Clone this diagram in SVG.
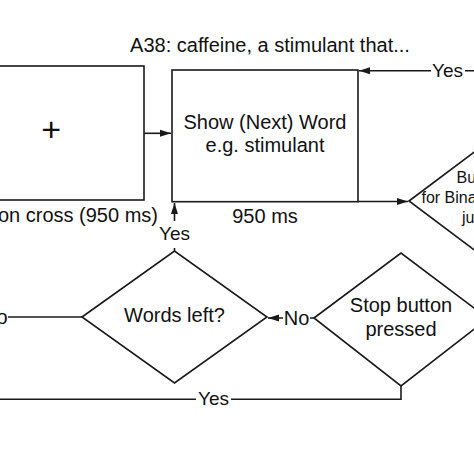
<svg xmlns="http://www.w3.org/2000/svg" width="474" height="474" viewBox="0 0 474 474">
<style>
.shape{fill:#fff;stroke:#1a1a1a;stroke-width:1.6}
.t{font-family:"Liberation Sans",Arial,sans-serif;font-size:20px;fill:#111}
.s{font-size:16px}
.c{text-anchor:middle}
.e{text-anchor:end}
.edge{fill:none;stroke:#1a1a1a;stroke-width:1.6}
</style>
<defs>
<marker id="arr" markerUnits="userSpaceOnUse" markerWidth="12" markerHeight="10" refX="11" refY="4" orient="auto">
<path d="M0,0.5 L11,4 L0,7.5 Z" fill="#1a1a1a"/>
</marker>
</defs>
<rect width="474" height="474" fill="#fff"/>
<text class="t c" x="270" y="52">A38: caffeine, a stimulant that...</text>
<g id="fixation">
<rect class="shape" x="-10" y="66" width="154" height="134"/>
<text class="t c" x="51.3" y="141" style="font-size:34px">+</text>
<text class="t e" x="158" y="222">on cross (950 ms)</text>
</g>
<g id="show-word">
<rect class="shape" x="172" y="70" width="186" height="131.7"/>
<text class="t c" x="265" y="129">Show (Next) Word</text>
<text class="t c" x="265" y="152">e.g. stimulant</text>
<text class="t c" x="265" y="223">950 ms</text>
</g>
<g id="button-decision">
<polygon class="shape" points="409,201 497,135 585,201 497,267"/>
<text class="t s" x="456.5" y="183">Bu</text>
<text class="t s" x="421.5" y="203">for Bina</text>
<text class="t s" x="462" y="223">ju</text>
</g>
<g id="words-left">
<polygon class="shape" points="82,317 174.5,251 267,317 174.5,383"/>
<text class="t c" x="174.5" y="322">Words left?</text>
</g>
<g id="stop-button">
<polygon class="shape" points="314,318 401,253 488,318.5 401,386"/>
<text class="t c" x="401" y="312">Stop button</text>
<text class="t c" x="401" y="336">pressed</text>
</g>
<g id="connectors">
<path class="edge" d="M144,133.3 H171" marker-end="url(#arr)"/>
<path class="edge" d="M358,201.5 H408" marker-end="url(#arr)"/>
<path class="edge" d="M474,70.7 H465 M431,70.7 H359" marker-end="url(#arr)"/>
<path class="edge" d="M174.5,251 V248 M174.5,221 V203" marker-end="url(#arr)"/>
<path class="edge" d="M314,318 H310 M283,318 H268" marker-end="url(#arr)"/>
<path class="edge" d="M82,317 H8"/>
<path class="edge" d="M401,386 V399.3 H231 M196,399.3 H0"/>
<text class="t c" x="447.5" y="77" style="font-size:19px">Yes</text>
<text class="t c" x="174.5" y="240" style="font-size:19px">Yes</text>
<text class="t c" x="296.5" y="325">No</text>
<text class="t e" x="7.5" y="324">o</text>
<text class="t c" x="213.5" y="405" style="font-size:19px">Yes</text>
</g>
</svg>
